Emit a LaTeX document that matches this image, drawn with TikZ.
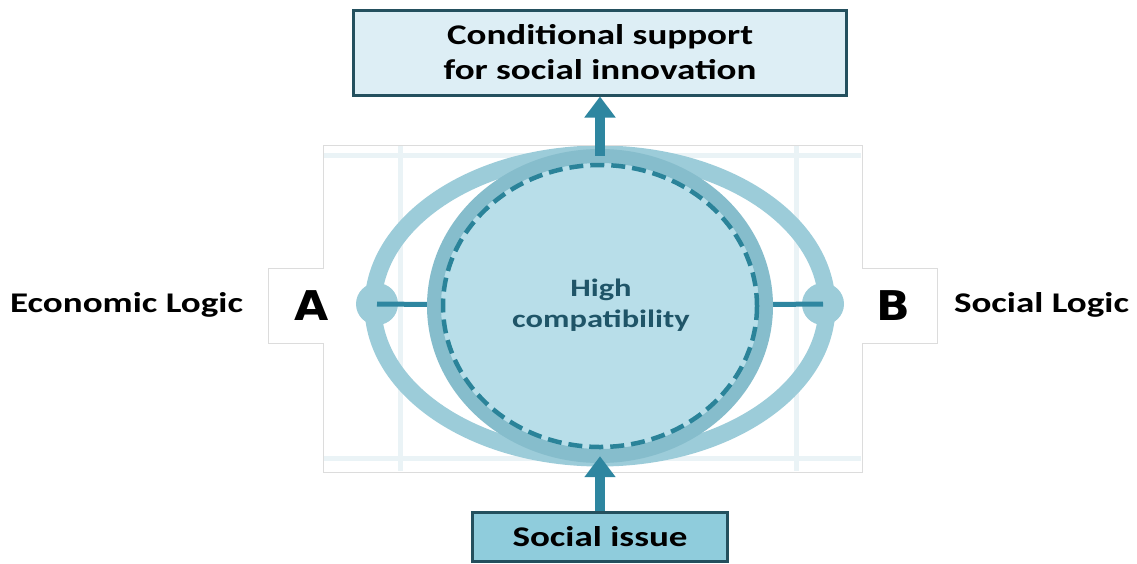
\documentclass[tikz,border=0pt]{standalone}
\usepackage{fontspec}
\setmainfont{Carlito}
\newfontfamily\lblfont{Carlito}[FakeStretch=1.3]
\newfontfamily\letterfont{DejaVu Sans}[FakeStretch=1.08]
\usetikzlibrary{arrows.meta,shapes.geometric}
\definecolor{ringc}{HTML}{9CCCD9}
\definecolor{ringd}{HTML}{86BDCC}
\definecolor{fillc}{HTML}{B8DEE9}
\definecolor{dashc}{HTML}{2A8399}
\definecolor{arrowc}{HTML}{2E86A0}
\definecolor{boxborder}{HTML}{24505E}
\definecolor{topfill}{HTML}{DDEEF5}
\definecolor{botfill}{HTML}{8FCCDC}
\definecolor{gridc}{HTML}{EAF3F6}
\definecolor{panelborder}{HTML}{DCDCDC}
\definecolor{hightext}{HTML}{1F5568}
\tikzset{
  labeltext/.style={font=\lblfont\bfseries\fontsize{28.5}{35}\selectfont, text=black},
  letterbox/.style={fill=white, draw=none, minimum width=87, minimum height=75, inner sep=0,
     font=\letterfont\bfseries\fontsize{41}{41}\selectfont},
  blob/.style={circle, fill=ringc, minimum size=42, inner sep=0},
  linkline/.style={arrowc, line width=5},
  bigarrow/.style={arrowc, line width=10, -{Triangle[width=30,length=21]}},
  gridline/.style={gridc, line width=5},
}
\begin{document}
\begin{tikzpicture}[x=1pt,y=-1pt]
\useasboundingbox (0,0) rectangle (1137,563);
% panel background grid
\fill[white] (323,145) rectangle (862,472);
\draw[gridline] (400,146) -- (400,471);
\draw[gridline] (796,146) -- (796,471);
\draw[gridline] (324,155) -- (861,155);
\draw[gridline] (324,458) -- (861,458);
% big ellipse ring
\draw[ringc, line width=17] (600,306) ellipse [x radius=227, y radius=152];
% blobs
\node[blob] (blobL) at (377,304) {};
\node[blob] (blobR) at (823,304) {};
% central circle
\node[ellipse, minimum width=332, minimum height=300, inner sep=0] (cc) at (600,306) {};
\draw[linkline] (blobL.center) -- (cc.center);
\draw[linkline] (blobR.center) -- (cc.center);
\draw[fill=fillc, draw=ringd, line width=14] (600,306) ellipse [x radius=166, y radius=150];
\draw[dashc, line width=4.5, dash pattern=on 14 off 7] (600,306) ellipse [x radius=157, y radius=141];
\node[font=\lblfont\bfseries\fontsize{25}{31}\selectfont, text=hightext, align=center] (hc) at (601,305) {High\\compatibility};
% letter boxes
\node[letterbox] (A) at (311.5,305.5) {A};
\node[letterbox] (B) at (893.5,305.5) {B};
% panel outline
\draw[panelborder, line width=1] (323,145) -- (862,145) -- (862,268) -- (937,268) -- (937,343) -- (862,343) -- (862,472) -- (323,472) -- (323,343) -- (268,343) -- (268,268) -- (323,268) -- cycle;
% boxes
\node[draw=boxborder, line width=3, fill=topfill, minimum width=493, minimum height=85, inner sep=0,
  labeltext, align=center] (top) at (600,52.5) {Conditional support\\for social innovation};
\node[draw=boxborder, line width=3, fill=botfill, minimum width=255, minimum height=49, inner sep=0,
  labeltext] (bot) at (600,536.5) {Social issue};
% arrows
\draw[bigarrow] (cc.north) -- (top.south);
\draw[bigarrow] (bot.north) -- (cc.south);
% side labels
\node[labeltext] (econ) at (126.5,305) {Economic Logic};
\node[labeltext] (soc) at (1041.5,305) {Social Logic};
\end{tikzpicture}
\end{document}
